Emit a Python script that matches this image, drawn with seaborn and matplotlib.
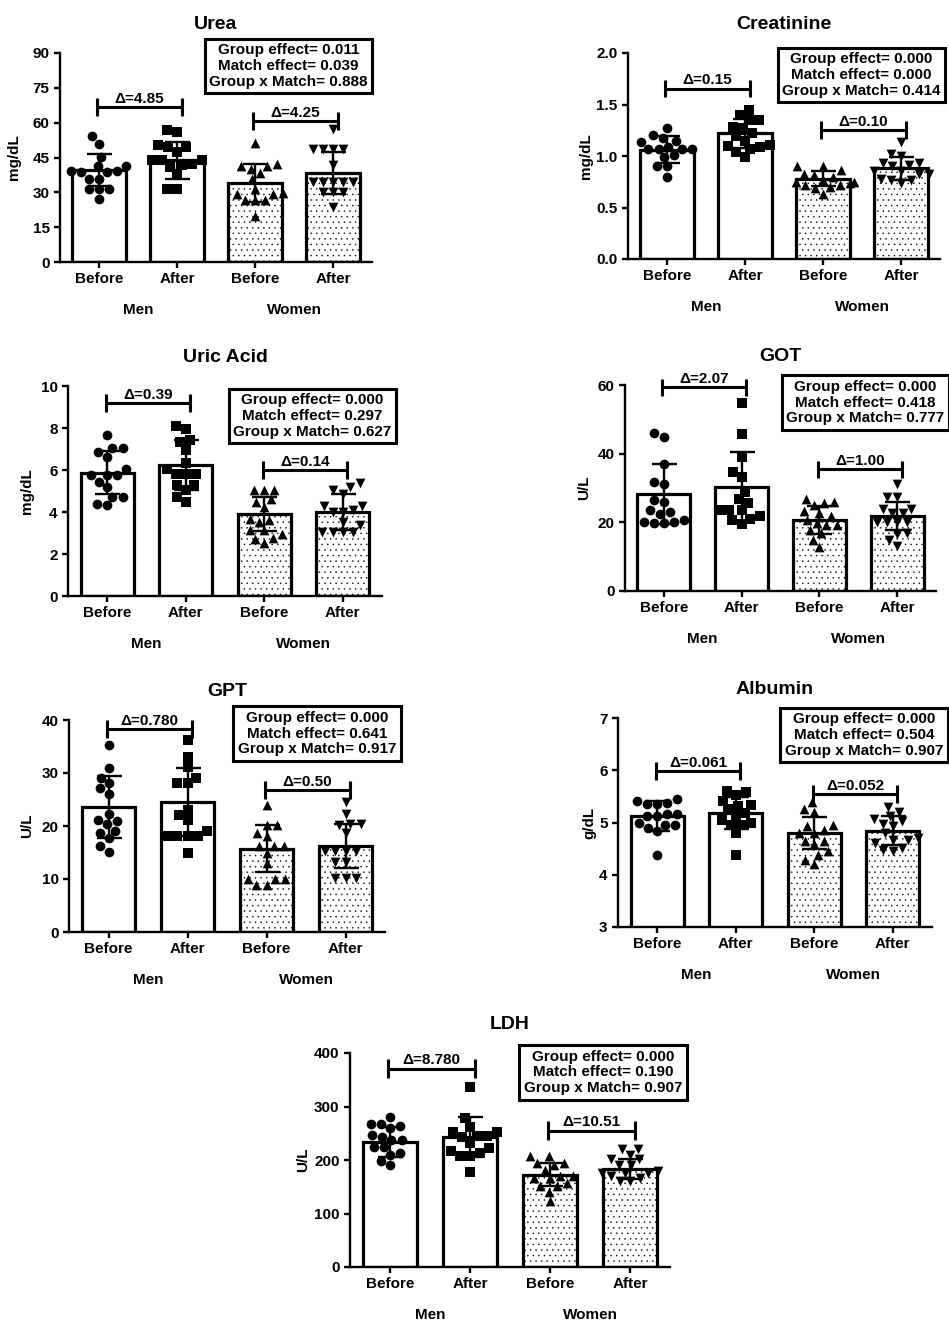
import matplotlib
matplotlib.use('Agg')
import matplotlib.pyplot as plt
import seaborn as sns
from matplotlib.ticker import FormatStrFormatter
from matplotlib.transforms import blended_transform_factory

# -----------------------------
# DATA
# -----------------------------
CONDITIONS = ['Men Before', 'Men After', 'Women Before', 'Women After']
TICK_LABELS = ['Before', 'After', 'Before', 'After']
GROUP_LABELS = ['Men', 'Women']
MARKERS = ['o', 's', '^', 'v']

# Urea (mg/dL)
urea_men_before = [54.1, 50.9, 45.2, 41.2, 39.2, 38.7, 38.7, 41.2, 39.2, 35.9, 35.9, 31.6, 31.3, 31.3, 27.0]
urea_men_after = [57.0, 56.0, 49.5, 49.5, 50.2, 47.3, 43.8, 43.8, 43.8, 42.3, 40.9, 41.6, 38.0, 31.6, 31.6]
urea_women_before = [51.2, 41.3, 40.2, 41.3, 42.0, 38.3, 35.6, 31.6, 29.1, 29.1, 29.7, 26.5, 26.5, 19.7, 26.5]
urea_women_after = [57.4, 48.8, 48.8, 48.8, 48.8, 34.4, 34.4, 34.4, 34.4, 34.4, 30.1, 30.1, 30.1, 23.7, 41.6]
urea_mean = [39.5, 43.8, 34.0, 38.3]
urea_sd = [6.8, 7.9, 8.0, 9.0]
urea_delta = ['Δ=4.85', 'Δ=4.25']
urea_delta_y = [66.7, 60.7]
urea_stats = ['0.011', '0.039', '0.888']

# Creatinine (mg/dL)
creat_men_before = [1.27, 1.17, 1.20, 1.14, 1.07, 1.09, 1.07, 1.07, 1.01, 0.99, 0.90, 0.90, 0.80, 1.07, 1.15]
creat_men_after = [1.45, 1.40, 1.35, 1.35, 1.27, 1.28, 1.22, 1.19, 1.07, 1.15, 1.11, 1.09, 1.04, 0.99, 1.10]
creat_women_before = [0.90, 0.90, 0.86, 0.83, 0.82, 0.80, 0.77, 0.75, 0.74, 0.72, 0.72, 0.70, 0.69, 0.63, 0.75]
creat_women_after = [1.14, 1.00, 1.02, 0.93, 0.93, 0.91, 0.85, 0.85, 0.83, 0.83, 0.78, 0.77, 0.77, 0.74, 0.90]
creat_mean = [1.06, 1.22, 0.78, 0.88]
creat_sd = [0.13, 0.14, 0.07, 0.11]
creat_delta = ['Δ=0.15', 'Δ=0.10']
creat_delta_y = [1.655, 1.25]
creat_stats = ['0.000', '0.000', '0.414']

# Uric acid (mg/dL)
uric_men_before = [7.69, 7.03, 7.03, 6.84, 6.63, 6.03, 5.76, 5.76, 5.76, 5.44, 5.20, 4.72, 4.72, 4.40, 4.32]
uric_men_after = [8.09, 7.93, 7.42, 7.34, 6.95, 6.34, 6.07, 5.83, 5.83, 5.83, 5.28, 5.28, 5.04, 4.72, 4.48]
uric_women_before = [5.04, 5.04, 5.04, 4.60, 4.48, 4.24, 3.69, 3.53, 3.61, 3.13, 2.97, 2.78, 2.73, 2.53, 3.13]
uric_women_after = [5.36, 5.07, 5.20, 4.88, 4.28, 4.09, 4.01, 4.01, 3.37, 3.05, 3.05, 3.05, 3.05, 3.53, 4.28]
uric_mean = [5.87, 6.23, 3.90, 4.02]
uric_sd = [1.03, 1.20, 0.82, 0.86]
uric_delta = ['Δ=0.39', 'Δ=0.14']
uric_delta_y = [9.17, 5.99]
uric_stats = ['0.000', '0.297', '0.627']

# GOT (U/L)
got_men_before = [45.9, 44.9, 37.0, 31.1, 31.8, 25.8, 26.5, 23.5, 22.4, 23.1, 20.6, 19.8, 19.8, 20.1, 20.1]
got_men_after = [54.9, 45.7, 38.9, 34.7, 33.1, 28.9, 25.7, 26.7, 23.5, 23.5, 21.8, 21.1, 20.8, 19.6, 23.5]
got_women_before = [26.7, 25.7, 26.0, 25.0, 23.3, 22.6, 21.8, 20.6, 19.8, 19.2, 19.2, 17.7, 16.9, 15.0, 12.8]
got_women_after = [31.1, 27.4, 27.4, 24.0, 24.0, 22.6, 22.6, 20.1, 20.1, 20.1, 16.9, 16.5, 14.8, 13.1, 20.1]
got_mean = [28.2, 30.4, 20.6, 21.8]
got_sd = [8.8, 10.2, 4.1, 4.0]
got_delta = ['Δ=2.07', 'Δ=1.00']
got_delta_y = [59.3, 35.4]
got_stats = ['0.000', '0.418', '0.777']

# GPT (U/L)
gpt_men_before = [35.2, 30.9, 29.1, 27.2, 28.1, 26.1, 22.2, 21.2, 20.3, 20.9, 19.1, 18.7, 17.7, 15.1, 16.2]
gpt_men_after = [36.3, 33.1, 31.1, 28.2, 29.1, 28.2, 23.1, 22.1, 21.2, 19.1, 18.2, 18.2, 18.2, 15.0, 18.2]
gpt_women_before = [24.0, 20.1, 20.1, 18.7, 18.2, 16.3, 16.3, 16.3, 15.0, 13.0, 10.0, 10.0, 10.0, 8.9, 8.9]
gpt_women_after = [24.5, 22.3, 20.3, 20.3, 20.1, 18.7, 15.2, 15.2, 15.2, 15.2, 13.3, 13.3, 10.2, 10.2, 10.2]
gpt_mean = [23.6, 24.5, 15.7, 16.2]
gpt_sd = [5.9, 6.4, 4.4, 4.1]
gpt_delta = ['Δ=0.780', 'Δ=0.50']
gpt_delta_y = [38.3, 26.8]
gpt_stats = ['0.000', '0.641', '0.917']

# Albumin (g/dL)
alb_men_before = [5.41, 5.45, 5.35, 5.35, 5.37, 5.17, 5.17, 5.13, 5.13, 4.99, 4.96, 4.96, 4.89, 4.83, 4.38]
alb_men_after = [5.61, 5.58, 5.53, 5.41, 5.34, 5.32, 5.25, 5.18, 5.12, 5.05, 4.99, 4.96, 4.96, 4.80, 4.37]
alb_women_before = [5.39, 5.26, 5.21, 4.96, 4.93, 4.86, 4.80, 4.80, 4.64, 4.64, 4.58, 4.45, 4.38, 4.29, 4.21]
alb_women_after = [5.30, 5.21, 5.12, 5.07, 5.02, 4.98, 4.94, 4.80, 4.70, 4.67, 4.67, 4.61, 4.51, 4.48, 4.45]
alb_mean = [5.12, 5.18, 4.80, 4.84]
alb_sd = [0.29, 0.30, 0.31, 0.28]
alb_delta = ['Δ=0.061', 'Δ=0.052']
alb_delta_y = [5.98, 5.55]
alb_stats = ['0.000', '0.504', '0.907']

# LDH (U/L)
ldh_men_before = [280, 268, 268, 263, 260, 243, 247, 238, 238, 225, 225, 214, 210, 198, 191]
ldh_men_after = [336, 278, 262, 252, 252, 245, 243, 232, 213, 222, 216, 207, 207, 177, 245]
ldh_women_before = [194, 207, 207, 194, 191, 182, 170, 171, 166, 157, 151, 151, 141, 123, 166]
ldh_women_after = [221, 221, 210, 201, 202, 191, 191, 179, 176, 176, 176, 160, 160, 166, 170]
ldh_mean = [233.6, 243.0, 172.6, 183.0]
ldh_sd = [28.0, 37.0, 22.0, 18.0]
ldh_delta = ['Δ=8.780', 'Δ=10.51']
ldh_delta_y = [371, 255]
ldh_stats = ['0.000', '0.190', '0.907']

# -----------------------------
# LAYOUT (pixels: left, top, width, height)
# -----------------------------
W, H = 949, 1324

panels = [
    dict(title='Urea', ylabel='mg/dL', yticks=[0, 15, 30, 45, 60, 75, 90], fmt='%d',
         groups=[urea_men_before, urea_men_after, urea_women_before, urea_women_after],
         mean=urea_mean, sd=urea_sd, delta=urea_delta, delta_y=urea_delta_y, stats=urea_stats,
         rect=(60, 53, 312, 209), box=(0.732, 0.938), ylab_x=-0.125),
    dict(title='Creatinine', ylabel='mg/dL', yticks=[0.0, 0.5, 1.0, 1.5, 2.0], fmt='%.1f',
         groups=[creat_men_before, creat_men_after, creat_women_before, creat_women_after],
         mean=creat_mean, sd=creat_sd, delta=creat_delta, delta_y=creat_delta_y, stats=creat_stats,
         rect=(628, 53, 312, 206), box=(0.748, 0.893), ylab_x=-0.112),
    dict(title='Uric Acid', ylabel='mg/dL', yticks=[0, 2, 4, 6, 8, 10], fmt='%d',
         groups=[uric_men_before, uric_men_after, uric_women_before, uric_women_after],
         mean=uric_mean, sd=uric_sd, delta=uric_delta, delta_y=uric_delta_y, stats=uric_stats,
         rect=(68, 386, 314, 210), box=(0.779, 0.857), ylab_x=-0.108),
    dict(title='GOT', ylabel='U/L', yticks=[0, 20, 40, 60], fmt='%d',
         groups=[got_men_before, got_men_after, got_women_before, got_women_after],
         mean=got_mean, sd=got_sd, delta=got_delta, delta_y=got_delta_y, stats=got_stats,
         rect=(625, 385, 311, 206), box=(0.773, 0.915), ylab_x=-0.110),
    dict(title='GPT', ylabel='U/L', yticks=[0, 10, 20, 30, 40], fmt='%d',
         groups=[gpt_men_before, gpt_men_after, gpt_women_before, gpt_women_after],
         mean=gpt_mean, sd=gpt_sd, delta=gpt_delta, delta_y=gpt_delta_y, stats=gpt_stats,
         rect=(69, 720, 316, 212), box=(0.785, 0.936), ylab_x=-0.111),
    dict(title='Albumin', ylabel='g/dL', yticks=[3, 4, 5, 6, 7], fmt='%d',
         groups=[alb_men_before, alb_men_after, alb_women_before, alb_women_after],
         mean=alb_mean, sd=alb_sd, delta=alb_delta, delta_y=alb_delta_y, stats=alb_stats,
         rect=(618, 718, 314, 209), box=(0.783, 0.919), ylab_x=-0.070),
    dict(title='LDH', ylabel='U/L', yticks=[0, 100, 200, 300, 400], fmt='%d',
         groups=[ldh_men_before, ldh_men_after, ldh_women_before, ldh_women_after],
         mean=ldh_mean, sd=ldh_sd, delta=ldh_delta, delta_y=ldh_delta_y, stats=ldh_stats,
         rect=(350, 1053, 320, 214), box=(0.79, 0.909), ylab_x=-0.125),
]

# -----------------------------
# STYLE
# -----------------------------
sns.set_theme(style='ticks')
plt.rcParams['font.family'] = ['Liberation Sans', 'DejaVu Sans']
plt.rcParams['font.weight'] = 'bold'
plt.rcParams['axes.labelweight'] = 'bold'
plt.rcParams['axes.titleweight'] = 'bold'
plt.rcParams['text.color'] = 'black'
plt.rcParams['axes.labelcolor'] = 'black'
plt.rcParams['xtick.color'] = 'black'
plt.rcParams['ytick.color'] = 'black'
plt.rcParams['hatch.linewidth'] = 0.3
LW = 1.7


def px_rect(l, t, w, h):
    return [l / W, 1 - (t + h) / H, w / W, h / H]


def draw_panel(ax, p):
    sns.barplot(x=CONDITIONS, y=p['mean'], order=CONDITIONS, color='white', saturation=1,
                edgecolor='black', linewidth=2.3, width=0.68, errorbar=None, ax=ax, zorder=1)
    for i, bar in enumerate(ax.patches):
        if i >= 2:
            bar.set_hatch('...')

    for cond, vals, mk in zip(CONDITIONS, p['groups'], MARKERS):
        sns.swarmplot(x=[cond] * len(vals), y=vals, order=CONDITIONS, color='black',
                      marker=mk, size=7, linewidth=0, ax=ax, zorder=3)

    ax.errorbar(range(4), p['mean'], yerr=p['sd'], fmt='none', ecolor='black',
                elinewidth=LW, capsize=9, capthick=LW, zorder=4)

    lo, hi = p['yticks'][0], p['yticks'][-1]
    h = 0.043 * (hi - lo)
    for k, (lbl, yb) in enumerate(zip(p['delta'], p['delta_y'])):
        x0, x1 = 2 * k - 0.02, 2 * k + 1.06
        ax.plot([x0, x1], [yb, yb], color='black', lw=2.2, solid_capstyle='butt', clip_on=False)
        ax.plot([x0, x0], [yb - h, yb + h], color='black', lw=2.2, solid_capstyle='butt', clip_on=False)
        ax.plot([x1, x1], [yb - h, yb + h], color='black', lw=2.2, solid_capstyle='butt', clip_on=False)
        ax.annotate(lbl, xy=((x0 + x1) / 2, yb), xytext=(0, 3), textcoords='offset points',
                    ha='center', va='baseline', fontsize=11, fontweight='bold', color='black')

    txt = (f"Group effect= {p['stats'][0]}\n"
           f"Match effect= {p['stats'][1]}\n"
           f"Group x Match= {p['stats'][2]}")
    ax.text(p['box'][0], p['box'][1], txt, transform=ax.transAxes, ha='center', va='center',
            fontsize=11, fontweight='bold', linespacing=1.15, zorder=6, color='black',
            bbox=dict(boxstyle='square,pad=0.3', fc='white', ec='black', lw=2.2))

    trans = blended_transform_factory(ax.transData, ax.transAxes)
    for k, g in enumerate(GROUP_LABELS):
        ax.annotate(g, xy=(2 * k + 0.5, 0), xycoords=trans, xytext=(0, -48),
                    textcoords='offset pixels', ha='center', va='center', color='black',
                    fontsize=11, fontweight='bold', annotation_clip=False)

    ax.set_xlim(-0.5, 3.5)
    ax.set_ylim(lo, hi)
    ax.set_yticks(p['yticks'])
    ax.yaxis.set_major_formatter(FormatStrFormatter(p['fmt']))
    ax.set_xticks(range(4))
    ax.set_xticklabels(TICK_LABELS)
    ax.set_xlabel('')
    ax.set_ylabel(p['ylabel'], fontsize=11, fontweight='bold', color='black')
    ax.yaxis.set_label_coords(p['ylab_x'], 0.5)
    ax.set_title(p['title'], fontsize=14, fontweight='bold', pad=17, color='black')
    ax.tick_params(width=LW, length=4, labelsize=11, color='black', labelcolor='black')
    for lab in ax.get_xticklabels() + ax.get_yticklabels():
        lab.set_fontweight('bold')
    sns.despine(ax=ax)
    for s in ['left', 'bottom']:
        ax.spines[s].set_linewidth(LW)
        ax.spines[s].set_color('black')


fig = plt.figure(figsize=(W / 100, H / 100), dpi=100)
for p in panels:
    ax = fig.add_axes(px_rect(*p['rect']))
    draw_panel(ax, p)

fig.savefig('out.png', dpi=100, facecolor='white')
